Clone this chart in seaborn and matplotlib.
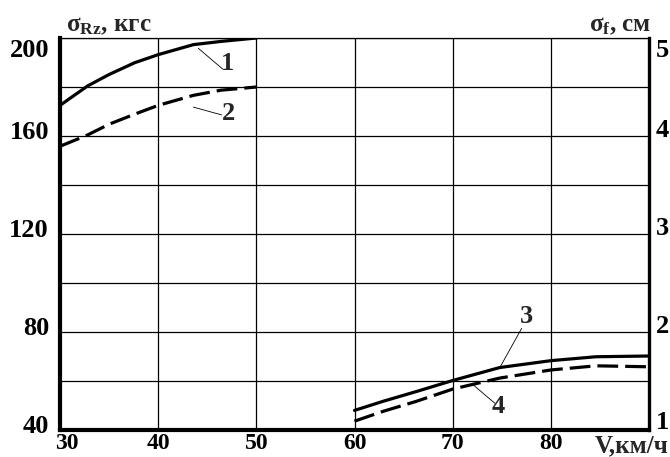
import matplotlib
matplotlib.use("Agg")
import matplotlib.pyplot as plt
import matplotlib.transforms as mtransforms
import seaborn as sns
import pandas as pd

# Speed, km/h, for the low-speed pair of curves (1, 2) and the high-speed pair (3, 4)
v_low = [30, 32.8, 35, 37.6, 40, 43.6, 46.4, 50]
sigma_rz_1 = [172.5, 180.4, 185.1, 189.9, 193.2, 197.3, 198.6, 200.0]
sigma_rz_2 = [155.8, 160.4, 164.8, 168.9, 172.5, 176.6, 178.7, 180.0]

v_high = [60, 62.9, 66.3, 70, 74.8, 80, 84.6, 90]
sigma_f_3 = [48.0, 51.7, 55.7, 60.2, 65.5, 68.3, 69.9, 70.2]
sigma_f_4 = [43.6, 47.6, 51.7, 56.7, 61.2, 64.5, 66.2, 65.8]

x_ticks = [30, 40, 50, 60, 70, 80, 90]
x_labels = ["30", "40", "50", "60", "70", "80", ""]
y_ticks = [40, 60, 80, 100, 120, 140, 160, 180, 200]
y_labels = ["40", "", "80", "", "120", "", "160", "", "200"]
right_ticks = [1, 2, 3, 4, 5]
right_labels = ["1", "2", "3", "4", "5"]

sns.set_theme(style="white")
plt.rcParams["font.family"] = ["Liberation Serif", "DejaVu Serif"]
plt.rcParams["font.weight"] = "bold"
plt.rcParams["mathtext.fontset"] = "custom"
plt.rcParams["mathtext.rm"] = "Liberation Serif:bold"
plt.rcParams["mathtext.it"] = "Liberation Serif:bold"
plt.rcParams["mathtext.bf"] = "Liberation Serif:bold"

TICK_FS = 19
X_FS = 17

df_low = pd.DataFrame({"V": v_low, "s1": sigma_rz_1, "s2": sigma_rz_2})
df_high = pd.DataFrame({"V": v_high, "s3": sigma_f_3, "s4": sigma_f_4})

fig = plt.figure(figsize=(6.7, 4.57), dpi=100)
ax = fig.add_axes([60 / 670, 1 - 430 / 457, 589 / 670, 392 / 457])

solid = dict(color="black", linewidth=2.3)
dashed = dict(color="black", linewidth=2.3, linestyle=(0, (6.5, 2.2)))
sns.lineplot(data=df_low, x="V", y="s1", ax=ax, **solid)
sns.lineplot(data=df_low, x="V", y="s2", ax=ax, **dashed)
sns.lineplot(data=df_high, x="V", y="s3", ax=ax, **solid)
sns.lineplot(data=df_high, x="V", y="s4", ax=ax, **dashed)

ax.set_xlim(30, 90)
ax.set_ylim(40, 200)
ax.set_xticks(x_ticks)
ax.set_xticklabels(x_labels, fontsize=X_FS, fontweight="bold")
ax.set_yticks(y_ticks)
ax.set_yticklabels(y_labels, fontsize=TICK_FS, fontweight="bold")
ax.set_xlabel("")
ax.set_ylabel("")
ax.grid(True, color="black", linewidth=0.9)
ax.tick_params(axis="both", length=0, colors="black")
ax.tick_params(axis="x", pad=2.5)
ax.tick_params(axis="y", pad=8)

for side, lw in [("left", 3.0), ("bottom", 3.0), ("right", 2.4), ("top", 0.9)]:
    ax.spines[side].set_visible(True)
    ax.spines[side].set_color("black")
    ax.spines[side].set_linewidth(lw)
ax.spines["left"].set_zorder(5)
ax.spines["bottom"].set_zorder(5)

# shift the first speed label a little to the right of the spine
ax.get_xticklabels()[0].set_transform(
    ax.get_xticklabels()[0].get_transform()
    + mtransforms.ScaledTranslation(5 / 72, 0, fig.dpi_scale_trans))

# vertical nudges of the left labels (points)
for lab, val in zip(ax.get_yticklabels(), y_ticks):
    dy = -7 if val == 200 else 4.5
    lab.set_transform(lab.get_transform() + mtransforms.ScaledTranslation(0, dy / 72, fig.dpi_scale_trans))

# right-hand scale for sigma_f, cm
ax2 = ax.twinx()
ax2.set_ylim(1, 5)
ax2.set_yticks(right_ticks)
ax2.set_yticklabels(right_labels, fontsize=TICK_FS, fontweight="bold")
ax2.tick_params(axis="y", length=0, pad=5, colors="black")
for s in ax2.spines.values():
    s.set_visible(False)
for lab, val in zip(ax2.get_yticklabels(), right_ticks):
    dy = -7 if val == 5 else (7 if val == 1 else 5.5)
    lab.set_transform(lab.get_transform() + mtransforms.ScaledTranslation(0, dy / 72, fig.dpi_scale_trans))

# curve numbers with leader lines
callouts = [
    ("1", (44.09, 195.8), (46.58, 187.3), (47.06, 189.6)),
    ("2", (43.58, 171.8), (46.47, 168.6), (47.2, 169.0)),
    ("3", (74.82, 65.6), (77.03, 81.5), (77.47, 86.3)),
    ("4", (72.1, 58.4), (74.3, 50.9), (74.6, 49.6)),
]
for txt, p0, p1, pt in callouts:
    ax.plot([p0[0], p1[0]], [p0[1], p1[1]], color="black", linewidth=0.6)
    ax.text(pt[0], pt[1], txt, fontsize=19, fontweight="bold", ha="center", va="center")

# axis titles
fig.text(66 / 670, 1 - 31 / 457, "σ$_{\\mathrm{Rz}}$, кгс", fontsize=18,
         fontweight="bold", ha="left", va="baseline")
fig.text(651 / 670, 1 - 31 / 457, "σ$_{\\mathrm{f}}$, см", fontsize=18,
         fontweight="bold", ha="right", va="baseline")
fig.text(669 / 670, 1 - 452 / 457, "V,км/ч", fontsize=X_FS + 1,
         fontweight="bold", ha="right", va="baseline")

fig.savefig("out.png", dpi=100, facecolor="white")
